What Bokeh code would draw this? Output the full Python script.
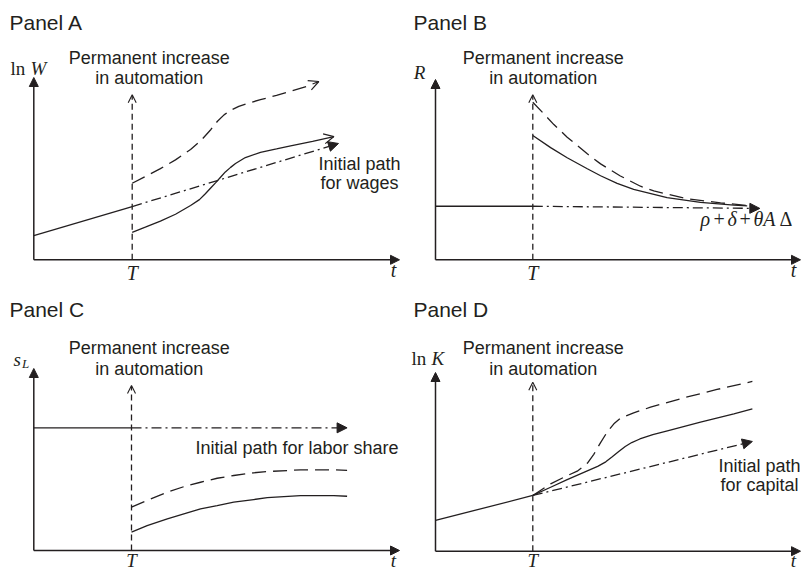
from bokeh.plotting import figure
from bokeh.layouts import gridplot
from bokeh.models import Range1d, Arrow, NormalHead, OpenHead, Label
from bokeh.embed import file_html
from bokeh.resources import INLINE

# ---------------- data (schematic units: T = 3, axis top = 10) ----------------
T_SHOCK = 3.0
Y_AXIS_END = 10.0

# Panel A: ln W
A_PRE_T = [0.0, 3.0]
A_PRE_Y = [1.33, 2.92]
A_INIT_T = [3.0, 9.29]
A_INIT_Y = [2.92, 6.38]
A_SOLID_T = [3.0, 3.40, 3.86, 4.32, 4.78, 5.05, 5.23, 5.40, 5.54, 5.70, 5.84, 6.00, 6.15,
             6.45, 6.91, 7.40, 7.83, 8.50, 9.15]
A_SOLID_Y = [1.51, 1.79, 2.12, 2.50, 2.98, 3.30, 3.62, 3.95, 4.22, 4.54, 4.82, 5.07, 5.28,
             5.61, 5.89, 6.08, 6.25, 6.50, 6.76]
A_DASH_T = [3.0, 3.40, 3.86, 4.32, 4.78, 5.10, 5.40, 5.60, 5.80, 6.00, 6.25, 6.55, 6.91,
            7.40, 7.83, 8.30, 8.69]
A_DASH_Y = [4.20, 4.57, 5.00, 5.48, 6.05, 6.55, 7.15, 7.60, 7.95, 8.20, 8.42, 8.60, 8.78,
            9.02, 9.25, 9.50, 9.78]
A_T_ARROW = 9.05

# Panel B: R
B_PRE_T = [0.0, 3.0]
B_PRE_Y = [2.97, 2.97]
B_INIT_T = [3.0, 10.0]
B_INIT_Y = [2.97, 2.85]
B_SOLID_T = [3.0, 3.55, 4.06, 4.68, 5.09, 5.60, 6.11, 7.14, 8.17, 9.20, 9.61]
B_SOLID_Y = [6.89, 6.22, 5.66, 5.05, 4.66, 4.24, 3.90, 3.45, 3.19, 3.03, 2.99]
B_DASH_T = [3.0, 3.34, 3.65, 4.06, 4.68, 5.09, 5.70, 6.32, 6.73, 7.76, 8.79, 9.61]
B_DASH_Y = [8.74, 8.10, 7.50, 6.80, 5.88, 5.32, 4.65, 4.08, 3.82, 3.38, 3.16, 3.01]
B_T_ARROW = 9.15
B_ASYMPTOTE_PARTS = [("\u03c1", "italic"), ("+", "normal"), ("\u03b4", "italic"),
                     ("+", "normal"), ("\u03b8A", "italic"), ("\u0394", "normal")]

# Panel C: s_L
C_PRE_T = [0.0, 3.0]
C_PRE_Y = [6.74, 6.74]
C_INIT_T = [3.0, 9.62]
C_INIT_Y = [6.74, 6.74]
C_NEW_T = [3.0, 3.48, 4.10, 4.71, 5.12, 5.63, 6.14, 6.75, 7.17, 8.19, 9.21, 9.62]
C_DASH_Y = [2.38, 2.75, 3.20, 3.57, 3.75, 3.97, 4.12, 4.27, 4.34, 4.43, 4.43, 4.40]
C_SOLID_Y = [1.01, 1.37, 1.74, 2.07, 2.29, 2.47, 2.66, 2.80, 2.90, 3.02, 3.02, 2.98]
C_T_ARROW = 9.07

# Panel D: ln K
D_PRE_T = [0.0, 3.0]
D_PRE_Y = [1.72, 3.12]
D_INIT_T = [3.0, 9.77]
D_INIT_Y = [3.12, 6.14]
D_SOLID_T = [3.00, 3.55, 4.06, 4.68, 5.00, 5.25, 5.45, 5.65, 5.85, 6.05, 6.30, 6.70, 7.15,
             8.17, 9.20, 9.77]
D_SOLID_Y = [3.12, 3.58, 4.01, 4.50, 4.75, 5.00, 5.28, 5.58, 5.86, 6.08, 6.28, 6.52, 6.74,
             7.22, 7.69, 7.97]
D_DASH_T = [3.00, 3.55, 3.96, 4.37, 4.68, 4.88, 5.09, 5.29, 5.50, 5.70, 6.11, 6.63, 7.65,
            8.68, 9.77]
D_DASH_Y = [3.12, 3.77, 4.14, 4.48, 4.92, 5.42, 6.08, 6.66, 7.13, 7.44, 7.74, 8.06, 8.58,
            9.05, 9.50]
D_T_ARROW = 9.46

SHOCK_TEXT = ["Permanent increase", "in automation"]

# ---------------- styling ----------------
INK = "#231f20"
SANS = "Liberation Sans"
SERIF = "Liberation Serif"
DASH = "14 7"
DASHDOT = "10 4 2 4"
VDASH = "6 4"


class Panel:
    def __init__(self, left, top, w, h, ox, oy, tpx, ytop, xend_px):
        self.left, self.top, self.w, self.h = left, top, w, h
        self.ox, self.oy = ox, oy
        self.xs = (tpx - ox) / T_SHOCK
        self.ys = (oy - ytop) / Y_AXIS_END
        self.xend = (xend_px - ox) / self.xs
        x0 = (left - ox) / self.xs
        x1 = (left + w - ox) / self.xs
        y0 = (oy - (top + h)) / self.ys
        y1 = (oy - top) / self.ys
        p = figure(width=w, height=h, x_range=Range1d(x0, x1), y_range=Range1d(y0, y1),
                   output_backend="svg", toolbar_location=None, min_border=0,
                   x_axis_location=None, y_axis_location=None)
        p.grid.visible = False
        p.outline_line_color = None
        p.background_fill_color = "white"
        p.border_fill_color = "white"
        self.p = p

    def X(self, px):
        return (px - self.ox) / self.xs

    def Y(self, py):
        return (self.oy - py) / self.ys

    def label(self, px, py, text, font=SANS, size="18px", style="normal", align="left"):
        self.p.add_layout(Label(x=self.X(px), y=self.Y(py), text=text, text_font=font,
                                text_font_size=size, text_font_style=style,
                                text_align=align, text_baseline="middle", text_color=INK))

    def axes(self):
        for (xe, ye) in [(self.xend, 0.0), (0.0, Y_AXIS_END)]:
            self.p.add_layout(Arrow(end=NormalHead(size=9, fill_color=INK, line_color=INK, line_width=1),
                                    x_start=0.0, y_start=0.0, x_end=xe, y_end=ye,
                                    line_color=INK, line_width=1.5))

    def shock(self, ytip, cx, y1, y2, tpy, tx, tlab_py, tsize="20px"):
        self.p.add_layout(Arrow(end=OpenHead(size=8, line_color=INK, line_width=1.1),
                                x_start=T_SHOCK, y_start=0.0, x_end=T_SHOCK, y_end=ytip,
                                line_color=INK, line_width=1.3, line_dash=VDASH))
        self.label(cx, y1, SHOCK_TEXT[0], align="center")
        self.label(cx, y2, SHOCK_TEXT[1], align="center")
        self.p.add_layout(Label(x=T_SHOCK, y=self.Y(tpy), text="T", text_font=SERIF,
                                text_font_size=tsize, text_font_style="italic",
                                text_align="center", text_baseline="middle", text_color=INK))
        self.label(tx, tlab_py, "t", font=SERIF, size=tsize, style="italic", align="center")

    def line(self, t, y, dash="solid", width=1.3):
        self.p.line(t, y, line_color=INK, line_width=width, line_dash=dash)

    def init_arrow(self, t, y):
        self.p.add_layout(Arrow(end=NormalHead(size=10, fill_color=INK, line_color=INK, line_width=1),
                                x_start=t[0], y_start=y[0], x_end=t[-1], y_end=y[-1],
                                line_color=INK, line_width=1.3, line_dash=DASHDOT))

    def open_tip(self, t, y):
        self.p.add_layout(Arrow(end=OpenHead(size=10, line_color=INK, line_width=1.2),
                                x_start=t[-2], y_start=y[-2], x_end=t[-1], y_end=y[-1],
                                line_alpha=0))


# ---------------- Panel A ----------------
pa = Panel(0, 0, 401, 285, 33.3, 259.3, 131.7, 77.0, 399.0)
pa.label(9, 21.5, "Panel A", size="21px")
pa.axes()
pa.line(A_PRE_T, A_PRE_Y)
pa.init_arrow(A_INIT_T, A_INIT_Y)
pa.line(A_SOLID_T, A_SOLID_Y)
pa.open_tip(A_SOLID_T, A_SOLID_Y)
pa.line(A_DASH_T, A_DASH_Y, dash=DASH)
pa.open_tip(A_DASH_T, A_DASH_Y)
pa.shock(A_T_ARROW, 148.7, 57.3, 77.3, 272.5, 393, 269)
pa.label(10, 68.3, "ln", font=SERIF, size="19px")
pa.label(30, 68.3, "W", font=SERIF, size="19px", style="italic")
pa.label(359, 163.3, "Initial path", align="center")
pa.label(359, 182.3, "for wages", align="center")

# ---------------- Panel B ----------------
pb = Panel(401, 0, 401, 285, 435.0, 259.3, 532.3, 79.0, 800.0)
pb.label(413, 21.5, "Panel B", size="21px")
pb.axes()
pb.line(B_PRE_T, B_PRE_Y)
pb.init_arrow(B_INIT_T, B_INIT_Y)
pb.line(B_SOLID_T, B_SOLID_Y)
pb.line(B_DASH_T, B_DASH_Y, dash=DASH)
pb.shock(B_T_ARROW, 542.7, 57.3, 77.3, 272.5, 793, 269)
pb.label(419, 71.7, "R", font=SERIF, size="19px", style="italic", align="center")
for (txt, sty), px in zip(B_ASYMPTOTE_PARTS, [700, 713, 727, 739, 753, 779]):
    pb.label(px, 218.3, txt, font=SERIF, size="20px", style=sty)

# ---------------- Panel C ----------------
pc = Panel(0, 285, 401, 285, 33.3, 550.0, 131.0, 368.0, 399.0)
pc.label(9, 309, "Panel C", size="21px")
pc.axes()
pc.line(C_PRE_T, C_PRE_Y)
pc.init_arrow(C_INIT_T, C_INIT_Y)
pc.line(C_NEW_T, C_DASH_Y, dash=DASH)
pc.line(C_NEW_T, C_SOLID_Y)
pc.shock(C_T_ARROW, 148.7, 347.5, 368.3, 560.0, 393, 559.5, tsize="19px")
pc.label(13, 359, "s", font=SERIF, size="19px", style="italic")
pc.label(21.5, 363, "L", font=SERIF, size="13px", style="italic")
pc.label(195, 447.3, "Initial path for labor share")

# ---------------- Panel D ----------------
pdd = Panel(401, 285, 401, 285, 435.0, 550.7, 532.3, 372.0, 800.0)
pdd.label(413, 309, "Panel D", size="21px")
pdd.axes()
pdd.line(D_PRE_T, D_PRE_Y)
pdd.init_arrow(D_INIT_T, D_INIT_Y)
pdd.line(D_SOLID_T, D_SOLID_Y)
pdd.line(D_DASH_T, D_DASH_Y, dash=DASH)
pdd.shock(D_T_ARROW, 542.7, 347.5, 368.3, 560.0, 793, 559.5, tsize="19px")
pdd.label(411, 357.7, "ln", font=SERIF, size="19px")
pdd.label(431, 357.7, "K", font=SERIF, size="19px", style="italic")
pdd.label(759, 465, "Initial path", align="center")
pdd.label(759, 484.3, "for capital", align="center")

grid = gridplot([[pa.p, pb.p], [pc.p, pdd.p]], toolbar_location=None)

open("out.html", "w").write(file_html(grid, INLINE))
